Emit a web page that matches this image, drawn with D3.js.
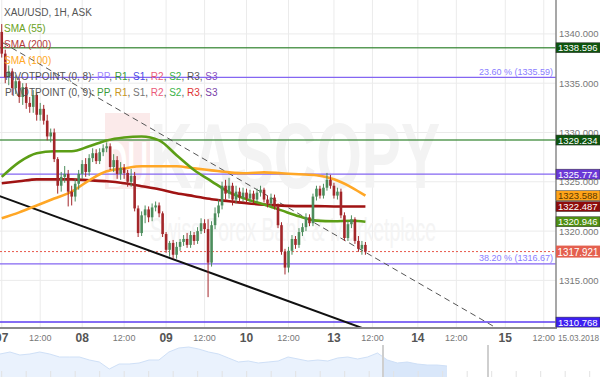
<!DOCTYPE html>
<html>
<head>
<meta charset="utf-8">
<script src="https://cdn.jsdelivr.net/npm/d3@7"></script>
<style>
  body { margin: 0; background: #fff; }
  svg { display: block; font-family: "Liberation Sans", Arial, sans-serif; }
</style>
</head>
<body>
<svg id="chart" width="600" height="377"></svg>
<script>
// hourly candles, bar index 0 = 07 00:00
let opens  = [1340.2,1338.0,1335.6,1336.2,1334.5,1335.2,1333.6,1334.6,1333.0,1332.6,1333.8,1331.8,1332.4,1331.2,1329.6,1330.0,1327.3,1324.6,1325.5,1325.8,
              1324.0,1323.5,1324.8,1325.8,1326.8,1326.0,1327.4,1327.9,1327.1,1328.0,1328.4,1328.6,1326.5,1327.2,1325.8,1326.4,1325.9,1325.0,1325.6,1322.3,
              1319.8,1321.6,1322.2,1321.4,1322.4,1322.6,1321.8,1319.7,1318.1,1318.8,1317.6,1318.4,1318.9,1319.2,1318.6,1319.6,1319.0,1320.0,1320.8,1320.2,
              1316.8,1320.6,1321.8,1322.6,1324.6,1323.8,1324.6,1323.2,1324.0,1323.4,1323.9,1323.3,1323.8,1323.2,1323.9,1324.2,1323.2,1322.8,1323.4,1322.5,
              1320.6,1317.9,1316.3,1318.0,1319.2,1318.6,1319.9,1320.4,1321.4,1320.8,1323.5,1324.3,1323.6,1324.4,1325.2,1324.6,1323.6,1324.0,1321.6,1319.3,
              1320.7,1321.2,1319.0,1318.2,1318.6];
let highs  = [1341.0,1338.4,1336.8,1336.5,1335.8,1335.5,1335.0,1335.0,1333.6,1334.3,1334.0,1333.0,1332.8,1331.8,1330.4,1330.4,1327.5,1326.0,1326.6,1326.2,
              1324.6,1325.3,1326.2,1327.2,1327.4,1327.8,1328.4,1328.3,1328.4,1328.8,1329.0,1328.9,1327.8,1327.6,1327.0,1326.8,1326.2,1326.3,1326.0,1322.6,
              1322.0,1322.6,1322.5,1322.8,1323.0,1322.9,1322.0,1319.9,1319.0,1319.1,1318.9,1319.2,1319.6,1319.8,1320.0,1319.9,1320.4,1321.3,1321.2,1321.2,
              1321.0,1322.4,1323.2,1325.0,1325.2,1325.4,1324.9,1324.6,1324.4,1324.4,1324.3,1324.2,1324.1,1324.3,1324.6,1324.4,1323.6,1323.8,1323.7,1322.8,
              1320.9,1318.2,1318.4,1319.6,1319.5,1320.3,1320.8,1321.8,1321.7,1323.8,1324.6,1324.6,1324.8,1325.9,1325.7,1324.9,1324.4,1324.3,1321.9,1321.0,
              1321.6,1321.4,1319.5,1319.0,1318.9];
let lows   = [1337.6,1335.0,1334.8,1333.8,1333.9,1333.0,1332.8,1332.4,1332.0,1332.0,1331.2,1331.2,1330.8,1329.2,1329.0,1327.0,1323.8,1324.0,1324.9,1322.5,
              1322.6,1323.0,1324.2,1325.3,1325.5,1325.6,1327.0,1326.8,1326.8,1327.6,1328.0,1326.2,1326.0,1325.3,1325.2,1325.3,1324.5,1324.5,1322.0,1319.4,
              1319.5,1320.8,1320.9,1321.0,1322.0,1321.4,1319.4,1317.8,1317.4,1317.2,1317.2,1318.0,1318.5,1318.3,1318.3,1318.6,1318.7,1319.7,1319.8,1313.3,
              1316.4,1320.2,1321.4,1322.2,1323.2,1323.3,1322.6,1322.8,1322.8,1323.0,1322.9,1322.9,1322.8,1322.9,1323.5,1322.9,1322.4,1322.5,1322.2,1320.3,
              1317.6,1315.6,1315.8,1317.6,1318.2,1318.3,1319.5,1320.0,1320.5,1320.5,1323.1,1323.3,1323.3,1324.1,1324.3,1323.3,1323.2,1321.3,1319.0,1319.0,
              1320.3,1318.7,1317.9,1317.6,1317.6];
let closes = [1338.0,1335.6,1336.2,1334.5,1335.2,1333.6,1334.6,1333.0,1332.6,1333.8,1331.8,1332.4,1331.2,1329.6,1330.0,1327.3,1324.6,1325.5,1325.8,1324.0,
              1323.5,1324.8,1325.8,1326.8,1326.0,1327.4,1327.9,1327.1,1328.0,1328.4,1328.6,1326.5,1327.2,1325.8,1326.4,1325.9,1325.0,1325.6,1322.3,1319.8,
              1321.6,1322.2,1321.4,1322.4,1322.6,1321.8,1319.7,1318.1,1318.8,1317.6,1318.4,1318.9,1319.2,1318.6,1319.6,1319.0,1320.0,1320.8,1320.2,1316.8,
              1320.6,1321.8,1322.6,1324.6,1323.8,1324.6,1323.2,1324.0,1323.4,1323.9,1323.3,1323.8,1323.2,1323.9,1324.2,1323.2,1322.8,1323.4,1322.5,1320.6,
              1317.9,1316.3,1318.0,1319.2,1318.6,1319.9,1320.4,1321.4,1320.8,1323.5,1324.3,1323.6,1324.4,1325.2,1324.6,1323.6,1324.0,1321.6,1319.3,1320.7,
              1321.2,1319.0,1318.2,1318.6,1317.921];

// moving averages read at every 5th bar
let smaBars = [0,5,10,15,20,25,30,35,40,45,50,55,60,65,70,75,80,85,90,95,100,104];
let sma55  = [1325.5,1327.0,1327.9,1328.1,1328.1,1328.6,1329.2,1329.5,1329.6,1329.2,1327.7,1326.2,1325.05,1323.94,1323.23,1322.7,1322.1,1321.5,1321.06,1321.0,1321.05,1320.946];
let sma100 = [1321.3,1321.9,1322.6,1323.3,1324.0,1325.15,1326.06,1326.36,1326.57,1326.57,1326.57,1326.36,1326.16,1325.96,1325.86,1325.96,1325.86,1325.76,1325.66,1325.25,1324.44,1323.588];
let sma200 = [1324.85,1325.05,1325.25,1325.25,1325.25,1325.15,1325.05,1324.85,1324.55,1324.24,1323.84,1323.54,1323.23,1323.03,1322.83,1322.68,1322.58,1322.53,1322.53,1322.5,1322.5,1322.487];

let dayTicks = [0, 23, 47, 70, 95, 119, 144];
let dayLabels = ['07', '08', '09', '10', '13', '14', '15'];
let halfTicks = [11, 35, 58, 82, 106, 130, 155];
let priceTicks = [1315, 1320, 1325, 1330, 1335, 1340];

let greenLevels = [1338.596, 1329.234];
let pivotLevels = [1325.774];
let fibValues = [1335.59, 1316.67];
let fibPct = ['23.60', '38.20'];
let lowLevel = 1310.768;
let lastPrice = 1317.921;

let trendSolid = [[-1.2, 1323.62], [103, 1310.18]];
let trendDashed = [[0.3, 1339.1], [142.3, 1310.0]];

let navValues = [1334,1336,1333,1334,1336,1334,1331,1331,1331,1328,1326,1319,1324,1324,1325,1328,1328,1336,1340,1341,
                 1339,1336,1334,1330,1326,1327,1325,1326,1327,1331,1329,1327,1328,1327,1330,1331,1329,1331,1335,1328,
                 1325,1326,1324,1323,1323,1322];

let W = 556, H = 328;
let svg = d3.select('#chart');
let fmt = d3.format('.3f');

let x = d3.scaleLinear().domain([-0.5, 158.5]).range([0, W]);
let y = d3.scaleLinear().domain([1310.17, 1343.44]).range([H, 0]);

svg.append('defs').append('clipPath').attr('id', 'plot')
  .append('rect').attr('width', W).attr('height', H);

// grid
let grid = svg.append('g');
grid.selectAll('.vg').data(dayTicks.concat(halfTicks)).enter().append('line')
  .attr('x1', d => x(d)).attr('x2', d => x(d)).attr('y1', 0).attr('y2', H)
  .style('stroke', '#ebebeb');
grid.selectAll('.hg').data(priceTicks).enter().append('line')
  .attr('x1', 0).attr('x2', W).attr('y1', d => y(d)).attr('y2', d => y(d))
  .style('stroke', '#ebebeb');

// watermark
let wm = svg.append('g');
wm.append('rect').attr('x', 105).attr('y', 113).attr('width', 45).attr('height', 76).style('fill', '#fbeaea');
wm.append('text').attr('x', 107).attr('y', 187).style('font-size', '64px').style('font-weight', 'bold')
  .style('fill', '#fff').attr('textLength', 41).attr('lengthAdjust', 'spacingAndGlyphs').text('DU');
wm.append('text').attr('x', 150).attr('y', 188).style('font-size', '92px').style('font-weight', 'bold')
  .style('fill', '#f3f3f3').attr('textLength', 290).attr('lengthAdjust', 'spacingAndGlyphs').text('KASCOPY');
wm.append('text').attr('x', 150).attr('y', 241).style('font-size', '34px')
  .style('fill', '#f4f4f4').attr('textLength', 286).attr('lengthAdjust', 'spacingAndGlyphs').text('Swiss Forex Bank & Marketplace');

let plot = svg.append('g').attr('clip-path', 'url(#plot)');

// horizontal levels
plot.selectAll('.gl').data(greenLevels).enter().append('line')
  .attr('x1', 0).attr('x2', W).attr('y1', d => y(d)).attr('y2', d => y(d))
  .style('stroke', '#3d8a3a').style('stroke-width', 1.5).style('opacity', 0.85);
plot.selectAll('.pl').data(pivotLevels.concat(fibValues)).enter().append('line')
  .attr('x1', 0).attr('x2', W).attr('y1', d => y(d)).attr('y2', d => y(d))
  .style('stroke', '#8466f2').style('stroke-width', 1.2);
plot.append('line').attr('x1', 0).attr('x2', W).attr('y1', y(lowLevel)).attr('y2', y(lowLevel))
  .style('stroke', '#5b3cf0').style('stroke-width', 1.5);
plot.append('line').attr('x1', 0).attr('x2', W).attr('y1', y(lastPrice)).attr('y2', y(lastPrice))
  .style('stroke', '#e8574a').style('stroke-dasharray', '2,2');

plot.selectAll('.fib').data(fibValues).enter().append('text')
  .attr('x', W - 3).attr('y', d => y(d) - 2.5).attr('text-anchor', 'end')
  .style('font-size', '9px').style('fill', '#8a7dff')
  .text((d, i) => `${fibPct[i]} % (${d.toFixed(2)})`);

// trend lines
let tl = d3.line().x(d => x(d[0])).y(d => y(d[1]));
plot.append('path').attr('d', tl(trendDashed))
  .style('fill', 'none').style('stroke', '#555').style('stroke-dasharray', '6,4');
plot.append('path').attr('d', tl(trendSolid))
  .style('fill', 'none').style('stroke', '#111').style('stroke-width', 2);

// moving averages
let ma = d3.line().curve(d3.curveMonotoneX).x((d, i) => x(smaBars[i])).y(d => y(d));
[[sma200, '#a01313'], [sma100, '#ffa726'], [sma55, '#5c9e16']].forEach(([s, c]) => {
  plot.append('path').attr('d', ma(s))
    .style('fill', 'none').style('stroke', c).style('stroke-width', 2.6);
});

// candles
let bars = closes.map((c, i) => ({i, o: opens[i], h: highs[i], l: lows[i], c}));
let cg = plot.selectAll('.candle').data(bars).enter().append('g');
let col = d => d.c >= d.o ? '#4c8d5c' : '#a3262a';
cg.append('line')
  .attr('x1', d => x(d.i)).attr('x2', d => x(d.i))
  .attr('y1', d => y(d.h)).attr('y2', d => y(d.l))
  .style('stroke', col).style('stroke-width', 1);
cg.append('rect')
  .attr('x', d => x(d.i) - 1.3).attr('width', 2.6)
  .attr('y', d => y(Math.max(d.o, d.c)))
  .attr('height', d => Math.max(1, Math.abs(y(d.o) - y(d.c))))
  .style('fill', col);

// legend
let lg = svg.append('g').style('font-size', '10px');
lg.append('text').attr('x', 4).attr('y', 16).style('fill', '#555').text('XAU/USD, 1H, ASK');
lg.append('text').attr('x', 4).attr('y', 32).style('fill', '#6aa122').text('SMA (55)');
lg.append('text').attr('x', 4).attr('y', 48).style('fill', '#b33a3a').text('SMA (200)');
lg.append('text').attr('x', 4).attr('y', 64).style('fill', '#ffa826').text('SMA (100)');
let piv = [
  ['PIVOTPOINT (0, 8): ', '#555'], ['PP', '#9f86ff'], [', ', '#555'], ['R1', '#3a9a3a'], [', ', '#555'],
  ['S1', '#4b4be6'], [', ', '#555'], ['R2', '#ea5a7a'], [', ', '#555'], ['S2', '#3cb34a'], [', ', '#555'],
  ['R3', '#555'], [', ', '#555'], ['S3', '#8a4fc0']];
let piv2 = [
  ['PIVOTPOINT (0, 9): ', '#555'], ['PP', '#3a9a3a'], [', ', '#555'], ['R1', '#c8961e'], [', ', '#555'],
  ['S1', '#777'], [', ', '#555'], ['R2', '#ea5a7a'], [', ', '#555'], ['S2', '#3cb34a'], [', ', '#555'],
  ['R3', '#e03434'], [', ', '#555'], ['S3', '#7a3fa8']];
[[piv, 80], [piv2, 96]].forEach(([parts, yy]) => {
  let t = lg.append('text').attr('x', 5).attr('y', yy);
  parts.forEach(p => t.append('tspan').style('fill', p[1]).text(p[0]));
});

// axes
svg.append('line').attr('x1', W).attr('x2', W).attr('y1', 0).attr('y2', H + 1)
  .style('stroke', '#8a8a8a').style('stroke-width', 1.5);
svg.append('line').attr('x1', 0).attr('x2', W + 1).attr('y1', H).attr('y2', H)
  .style('stroke', '#8a8a8a').style('stroke-width', 2);

svg.append('g').selectAll('text').data(priceTicks).enter().append('text')
  .attr('x', 559).attr('y', d => y(d) + 3.5)
  .style('font-size', '9.5px').style('fill', '#777').text(d => fmt(d));

let tags = [
  [greenLevels[0], '#0e540e', '#fff'], [greenLevels[1], '#0e540e', '#fff'],
  [pivotLevels[0], '#6a38d6', '#fff'], [sma100[sma100.length - 1], '#ffa41a', '#5a3a00'],
  [sma200[sma200.length - 1], '#8e0b0b', '#fff'], [sma55[sma55.length - 1], '#4f8f12', '#fff'],
  [lowLevel, '#3d1ff2', '#fff']];
let tg = svg.append('g').selectAll('g').data(tags).enter().append('g');
tg.append('rect').attr('x', W).attr('y', d => y(d[0]) - 5).attr('width', 600 - W).attr('height', 10)
  .style('fill', d => d[1]).style('stroke', '#333').style('stroke-width', 0.5);
tg.append('text').attr('x', 558).attr('y', d => y(d[0]) + 3.5)
  .style('font-size', '9.5px').style('fill', d => d[2]).text(d => fmt(d[0]));

svg.append('rect').attr('x', W).attr('y', y(lastPrice) - 6).attr('width', 600 - W).attr('height', 12)
  .style('fill', '#e4604f');
svg.append('text').attr('x', 557.5).attr('y', y(lastPrice) + 4.5)
  .style('font-size', '11px').style('fill', '#fff')
  .attr('textLength', 41).attr('lengthAdjust', 'spacingAndGlyphs').text(fmt(lastPrice));

let xa = svg.append('g');
xa.selectAll('.day').data(dayTicks).enter().append('text')
  .attr('x', d => x(d)).attr('y', 342).attr('text-anchor', 'middle')
  .style('font-size', '12px').style('font-weight', 'bold').style('fill', '#555')
  .text((d, i) => dayLabels[i]);
xa.selectAll('.half').data(halfTicks).enter().append('text')
  .attr('x', d => x(d)).attr('y', 341).attr('text-anchor', 'middle')
  .style('font-size', '9px').style('fill', '#777').text('12:00');
xa.append('text').attr('x', 558).attr('y', 341)
  .style('font-size', '8.5px').style('fill', '#777')
  .attr('textLength', 41).attr('lengthAdjust', 'spacingAndGlyphs').text('15.03.2018');

// navigator
let xn = d3.scaleLinear().domain([0, navValues.length - 1]).range([0, 447]);
let yn = d3.scaleLinear().domain([1311, 1343]).range([377, 345]);
let nav = svg.append('g');
let area = d3.area().x((d, i) => xn(i)).y0(377).y1(d => yn(d));
svg.select('defs').append('clipPath').attr('id', 'sel')
  .append('rect').attr('x', 383).attr('y', 340).attr('width', 105).attr('height', 40);
nav.append('path').attr('d', area(navValues)).style('fill', '#eaf2fd');
nav.append('path').attr('d', area(navValues)).attr('clip-path', 'url(#sel)').style('fill', '#d9e7fa');
nav.append('path').attr('d', d3.line().x((d, i) => xn(i)).y(d => yn(d))(navValues))
  .style('fill', 'none').style('stroke', '#cfe0f7');
nav.selectAll('.nt').data(d3.range(1.7, 600, 24.5)).enter().append('line')
  .attr('x1', d => d).attr('x2', d => d).attr('y1', 371).attr('y2', 377)
  .style('stroke', '#e2e2e2');
nav.selectAll('.hd').data([383, 488]).enter().append('rect')
  .attr('x', d => d - 1).attr('y', 345).attr('width', 2).attr('height', 32)
  .style('fill', '#cfcfcf');
</script>
</body>
</html>
